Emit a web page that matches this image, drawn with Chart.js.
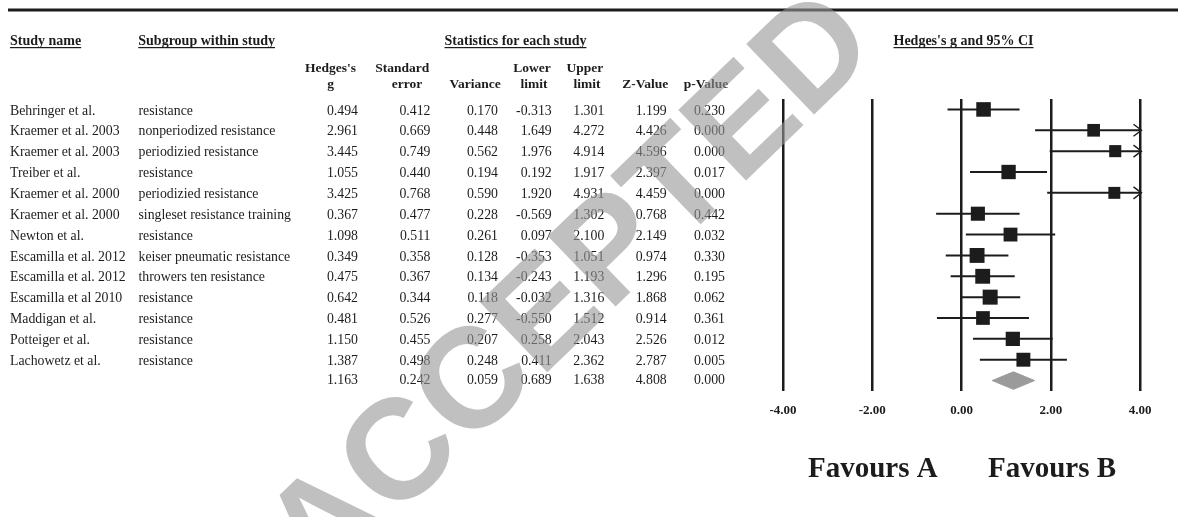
<!DOCTYPE html>
<html lang="en">
<head>
<meta charset="UTF-8">
<title>Hedges's g and 95% CI</title>
<script src="https://cdn.jsdelivr.net/npm/chart.js@4.4.0/dist/chart.umd.min.js"></script>
<style>
  html, body { margin: 0; padding: 0; background: #fff; }
  #wrap { width: 1178px; height: 517px; }
</style>
</head>
<body>
<div id="wrap"><canvas id="forest" width="1178" height="517"></canvas></div>
<script>
const studyNames = [
  'Behringer et al.', 'Kraemer et al. 2003', 'Kraemer et al. 2003', 'Treiber et al.',
  'Kraemer et al. 2000', 'Kraemer et al. 2000', 'Newton et al.', 'Escamilla et al. 2012',
  'Escamilla et al. 2012', 'Escamilla et al 2010', 'Maddigan et al.', 'Potteiger et al.',
  'Lachowetz et al.'
];
const subgroups = [
  'resistance', 'nonperiodized resistance', 'periodizied resistance', 'resistance',
  'periodizied resistance', 'singleset resistance training', 'resistance',
  'keiser pneumatic resistance', 'throwers ten resistance', 'resistance', 'resistance',
  'resistance', 'resistance'
];
const hedgesG   = [0.494, 2.961, 3.445, 1.055, 3.425, 0.367, 1.098, 0.349, 0.475, 0.642, 0.481, 1.150, 1.387];
const stdError  = [0.412, 0.669, 0.749, 0.440, 0.768, 0.477, 0.511, 0.358, 0.367, 0.344, 0.526, 0.455, 0.498];
const variance  = [0.170, 0.448, 0.562, 0.194, 0.590, 0.228, 0.261, 0.128, 0.134, 0.118, 0.277, 0.207, 0.248];
const lowerLim  = [-0.313, 1.649, 1.976, 0.192, 1.920, -0.569, 0.097, -0.353, -0.243, -0.032, -0.550, 0.258, 0.411];
const upperLim  = [1.301, 4.272, 4.914, 1.917, 4.931, 1.302, 2.100, 1.051, 1.193, 1.316, 1.512, 2.043, 2.362];
const zValue    = [1.199, 4.426, 4.596, 2.397, 4.459, 0.768, 2.149, 0.974, 1.296, 1.868, 0.914, 2.526, 2.787];
const pValue    = [0.230, 0.000, 0.000, 0.017, 0.000, 0.442, 0.032, 0.330, 0.195, 0.062, 0.361, 0.012, 0.005];
// combined effect: g, se, variance, lower, upper, z, p
const summaryStats = [1.163, 0.242, 0.059, 0.689, 1.638, 4.808, 0.000];
const axisTicks = [-4, -2, 0, 2, 4];

const SERIF = '"Liberation Serif", "Times New Roman", serif';
const INK = '#1c1c1c';
const xMin = axisTicks[0], xMax = axisTicks[axisTicks.length - 1];
const summaryRow = studyNames.length;

// square side grows with the (random effects style) weight
function markerRadius(v) {
  const side = 15 * Math.sqrt((0.118 + 0.7) / (v + 0.7));
  return side / (2 * Math.SQRT1_2);
}

const ciSets = hedgesG.map((g, i) => ({
  type: 'line',
  showLine: true,
  data: [{ x: Math.max(lowerLim[i], xMin), y: i }, { x: Math.min(upperLim[i], xMax), y: i }],
  borderColor: INK,
  borderWidth: 2,
  pointRadius: 0,
  clip: false
}));

const pointSet = {
  type: 'scatter',
  data: hedgesG.map((g, i) => ({ x: g, y: i })),
  pointStyle: 'rect',
  pointRadius: variance.map(markerRadius),
  backgroundColor: INK,
  borderColor: INK,
  borderWidth: 0
};

const dh = 0.42;
const diamondSet = {
  type: 'line',
  showLine: true,
  data: [
    { x: summaryStats[3], y: summaryRow },
    { x: summaryStats[0], y: summaryRow - dh },
    { x: summaryStats[4], y: summaryRow },
    { x: summaryStats[0], y: summaryRow + dh },
    { x: summaryStats[3], y: summaryRow }
  ],
  fill: 'shape',
  backgroundColor: '#9b9b9b',
  borderColor: '#9b9b9b',
  borderWidth: 1,
  pointRadius: 0
};

// column text positions
const statCols = [hedgesG, stdError, variance, lowerLim, upperLim, zValue, pValue];
const colRight = [358, 430.5, 498, 551.7, 604.3, 666.7, 725];
const colHeads = [
  [['Hedges\'s', 356, 'right'], ['g', 330.5, 'center']],
  [['Standard', 429.3, 'right'], ['error', 407, 'center']],
  [null, ['Variance', 500.7, 'right']],
  [['Lower', 550.7, 'right'], ['limit', 534, 'center']],
  [['Upper', 603.3, 'right'], ['limit', 587, 'center']],
  [null, ['Z-Value', 668.3, 'right']],
  [null, ['p-Value', 728.3, 'right']]
];

function underlined(ctx, text, x, y, align) {
  ctx.textAlign = align;
  ctx.fillText(text, x, y);
  const w = ctx.measureText(text).width;
  const x0 = align === 'center' ? x - w / 2 : (align === 'right' ? x - w : x);
  ctx.fillRect(x0, y + 6, w, 1.2);
}

const tablePlugin = {
  id: 'table',
  afterDraw(chart) {
    const ctx = chart.ctx;
    const yS = chart.scales.y;
    ctx.save();
    ctx.fillStyle = INK;
    ctx.fillRect(8, 8.5, 1170, 3);

    ctx.textBaseline = 'middle';
    ctx.font = 'bold 14px ' + SERIF;
    underlined(ctx, 'Study name', 10, 41, 'left');
    underlined(ctx, 'Subgroup within study', 138.3, 41, 'left');
    underlined(ctx, 'Statistics for each study', 515.5, 41, 'center');
    underlined(ctx, 'Hedges\'s g and 95% CI', 963.5, 41, 'center');

    ctx.font = 'bold 13.5px ' + SERIF;
    colHeads.forEach(lines => {
      lines.forEach((ln, k) => {
        if (!ln) return;
        ctx.textAlign = ln[2];
        ctx.fillText(ln[0], ln[1], k === 0 ? 69 : 85);
      });
    });

    ctx.font = '13.8px ' + SERIF;
    studyNames.forEach((name, i) => {
      const yp = yS.getPixelForValue(i) + 1.5;
      ctx.textAlign = 'left';
      ctx.fillText(name, 10, yp);
      ctx.fillText(subgroups[i], 138.5, yp);
      ctx.textAlign = 'right';
      statCols.forEach((col, c) => ctx.fillText(col[i].toFixed(3), colRight[c], yp));
    });
    const ys = yS.getPixelForValue(summaryRow);
    ctx.textAlign = 'right';
    summaryStats.forEach((v, c) => ctx.fillText(v.toFixed(3), colRight[c], ys));

    // open arrow heads where the interval runs past the axis
    const xS = chart.scales.x;
    ctx.strokeStyle = INK;
    ctx.lineWidth = 1.4;
    upperLim.forEach((u, i) => {
      if (u <= xMax) return;
      const xp = xS.getPixelForValue(xMax) + 1.5;
      const yp = yS.getPixelForValue(i);
      ctx.beginPath();
      ctx.moveTo(xp - 8, yp - 6);
      ctx.lineTo(xp, yp);
      ctx.lineTo(xp - 8, yp + 6);
      ctx.stroke();
    });

    ctx.font = 'bold 29px ' + SERIF;
    ctx.textAlign = 'left';
    ctx.textBaseline = 'alphabetic';
    ctx.fillText('Favours A', 808, 477);
    ctx.fillText('Favours B', 988, 477);
    ctx.restore();
  }
};

const watermarkPlugin = {
  id: 'watermark',
  afterDraw(chart) {
    const ctx = chart.ctx;
    ctx.save();
    ctx.translate(573, 293);
    ctx.rotate(-44 * Math.PI / 180);
    ctx.font = 'bold 142px "Liberation Sans", Arial, sans-serif';
    ctx.fillStyle = 'rgba(150,150,150,0.6)';
    ctx.textAlign = 'center';
    ctx.textBaseline = 'middle';
    ctx.fillText('ACCEPTED', 0, 0);
    ctx.restore();
  }
};

new Chart(document.getElementById('forest'), {
  type: 'scatter',
  data: { datasets: [...ciSets, pointSet, diamondSet] },
  options: {
    responsive: false,
    animation: false,
    events: [],
    layout: { padding: { left: 783, right: 38, top: 99, bottom: 0 } },
    plugins: { legend: { display: false }, tooltip: { enabled: false } },
    scales: {
      x: {
        type: 'linear',
        min: xMin,
        max: xMax,
        afterBuildTicks: s => { s.ticks = axisTicks.map(v => ({ value: v })); },
        afterFit: s => { s.height = 126; },
        grid: { color: INK, lineWidth: 2.5, drawTicks: false },
        border: { display: false },
        ticks: {
          padding: 12,
          color: INK,
          font: { family: SERIF, size: 13, weight: 'bold' },
          callback: v => v.toFixed(2)
        }
      },
      y: {
        type: 'linear',
        min: -0.5,
        max: summaryRow + 0.5,
        reverse: true,
        display: false
      }
    }
  },
  plugins: [tablePlugin, watermarkPlugin]
});
</script>
</body>
</html>
